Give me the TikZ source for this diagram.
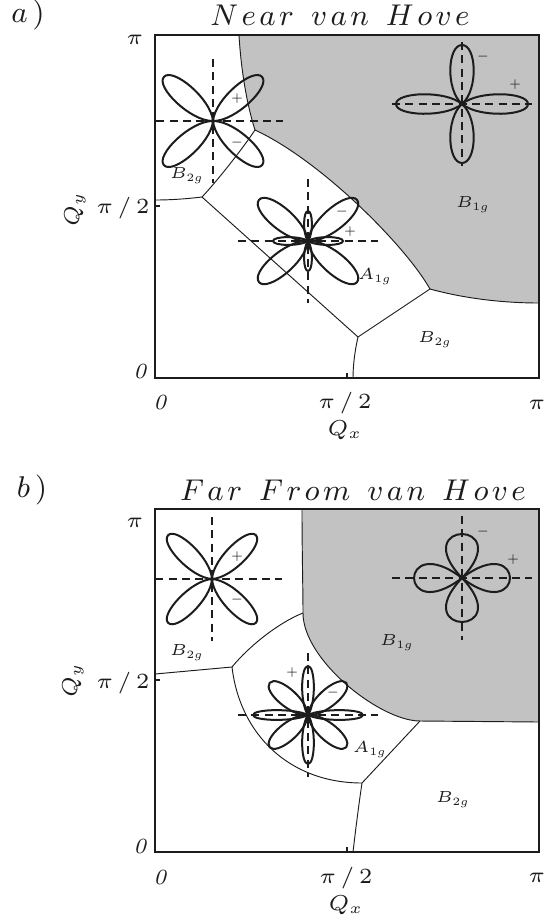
\documentclass[tikz,border=0pt]{standalone}
\usepackage{fix-cm}
\usepackage{tikz}
\usetikzlibrary{calc}
\definecolor{diagramInk}{HTML}{1C1C1C}
\definecolor{diagramGap}{HTML}{C2C2C2}
\newcommand{\petal}[4]{\draw[lobe,shift={(#1)},rotate=#2] (0,0) .. controls (0.25*#3,1.4*#4) and (#3,1.2*#4) .. (#3,0) .. controls (#3,-1.2*#4) and (0.25*#3,-1.4*#4) .. (0,0);}
\newcommand{\bulb}[4]{\draw[lobe,shift={(#1)},rotate=#2] (0,0) .. controls (1.333*#3,3.47*#4) and (1.333*#3,-3.47*#4) .. (0,0);}
\newcommand{\clover}[4]{\foreach \ang in {#2,180-#2,180+#2,360-#2} {\petal{#1}{\ang}{#3}{#4}}}
\newcommand{\guides}[1]{\draw[guide] ($(#1)+(-70,0)$) -- ($(#1)+(70,0)$) ($(#1)+(0,-62)$) -- ($(#1)+(0,62)$);}

\begin{document}
\begin{tikzpicture}[
    x=0.3pt,y=-0.3pt,
    every node/.style={inner sep=0pt,text=diagramInk},
    box/.style={draw=diagramInk,line width=0.5pt},
    wall/.style={draw=diagramInk,line width=0.28pt},
    gap/.style={fill=diagramGap},
    guide/.style={draw=diagramInk,line width=0.6pt,dash pattern=on 2.4pt off 1.6pt},
    lobe/.style={draw=diagramInk,line width=0.6pt},
    ttl/.style={font=\fontsize{9}{10}\selectfont},
    tick/.style={font=\fontsize{6.5}{8}\selectfont},
    irrep/.style={font=\fontsize{4.8}{6}\selectfont},
    sign/.style={font=\fontsize{3.5}{4}\selectfont}
]
\useasboundingbox (0,0) rectangle (551,924);

\coordinate (atop) at (239,35);
\coordinate (akink) at (255,130);
\coordinate (aknee) at (430,289);
\coordinate (aright) at (539,303);
\coordinate (aleft) at (155,200);
\coordinate (ajoin) at (202,197);
\coordinate (afork) at (358,337);
\coordinate (abottom) at (353,378);
\coordinate (atl) at (213,121);
\coordinate (atr) at (462,104);
\coordinate (amid) at (308,241);

\path[gap,wall] (atop) .. controls (241,70) and (247,105) .. (akink) .. controls (320,160) and (405,245) .. (aknee) .. controls (470,300) and (510,303) .. (aright) -- (539,35) -- cycle;
\draw[wall] (akink) .. controls (243,148) and (218,180) .. (ajoin) .. controls (185,199) and (170,200) .. (aleft);
\draw[wall] (ajoin) -- (afork) -- (aknee);
\draw[wall] (afork) .. controls (355,350) and (353,365) .. (abottom);
\draw[box] (155,35) rectangle (539,378);
\draw[box] (155,206) -- (160,206) (347,378) -- (347,373);

\begin{scope}
\clip (155,35) rectangle (539,378);
\guides{atl} \guides{atr} \guides{amid}
\end{scope}
\clover{atl}{42}{66}{11}
\foreach \ang/\len/\wid in {0/66/10,180/66/10,90/59/12,270/59/12} {\petal{atr}{\ang}{\len}{\wid}}
\clover{amid}{40}{64}{11}
\foreach \ang/\len in {0/35,180/35,90/30,270/30} {\petal{amid}{\ang}{\len}{4}}

\node[ttl] (apanel) at (28,15) {$a\,)$};
\node[ttl] (atitle) at (340,15) {$N\mkern2mu e\mkern2mu a\mkern2mu r\;\;v\mkern2mu a\mkern2mu n\;\;H\mkern2mu o\mkern2mu v\mkern2mu e$};
\node[tick] (api) at (135,40) {$\pi$};
\node[tick] (ahalf) at (123,208) {$\pi\,/\,2$};
\node[tick] (azero) at (140,372) {\textit{0}};
\node[tick] (axzero) at (160,403) {\textit{0}};
\node[tick] (axhalf) at (345,403) {$\pi\,/\,2$};
\node[tick] (axpi) at (537,405) {$\pi$};
\node[tick] (aqx) at (345,430) {$Q_x$};
\node[tick,rotate=90] (aqy) at (75,209) {$Q_y$};
\node[irrep] (ab2g) at (187,176) {$B_{2g}$};
\node[irrep] (aa1g) at (375,277) {$A_{1g}$};
\node[irrep] (ab1g) at (473,205) {$B_{1g}$};
\node[irrep] (ab2glow) at (435,340) {$B_{2g}$};
\node[sign] (atlplus) at (237,99) {$+$};
\node[sign] (atlminus) at (237,143) {$-$};
\node[sign] (atrminus) at (483,57) {$-$};
\node[sign] (atrplus) at (515,85) {$+$};
\node[sign] (amidminus) at (342,212) {$-$};
\node[sign] (amidplus) at (350,232) {$+$};

\coordinate (btop) at (302,509);
\coordinate (bkink) at (303,613);
\coordinate (bknee) at (420,721);
\coordinate (bright) at (539,722);
\coordinate (bleft) at (155,674);
\coordinate (bjoin) at (232,667);
\coordinate (bfork) at (362,783);
\coordinate (bbottom) at (353,852);
\coordinate (btl) at (212,579);
\coordinate (btr) at (462,578);
\coordinate (bmid) at (308,715);

\path[gap,wall] (btop) .. controls (302,550) and (303,590) .. (bkink) .. controls (303,660) and (380,721) .. (bknee) -- (bright) -- (539,509) -- cycle;
\draw[wall] (bkink) .. controls (280,622) and (250,645) .. (bjoin) -- (bleft);
\draw[wall] (bjoin) .. controls (240,735) and (290,783) .. (bfork) -- (bknee);
\draw[wall] (bfork) .. controls (358,810) and (355,835) .. (bbottom);
\draw[box] (155,509) rectangle (539,852);
\draw[box] (155,680) -- (160,680) (347,852) -- (347,847);

\begin{scope}
\clip (155,509) rectangle (539,852);
\guides{btl} \guides{btr} \guides{bmid}
\end{scope}
\clover{btl}{45}{62}{10}
\foreach \ang/\len/\wid in {0/48/14,180/48/14,90/44/16,270/44/16} {\bulb{btr}{\ang}{\len}{\wid}}
\clover{bmid}{40}{50}{9}
\foreach \ang/\len/\wid in {0/55/5,180/55/5,90/49/6,270/49/6} {\petal{bmid}{\ang}{\len}{\wid}}

\node[ttl] (bpanel) at (32,490) {$b\,)$};
\node[ttl] (btitle) at (353,490) {$F\mkern2mu a\mkern2mu r\;\;F\mkern2mu r\mkern2mu o\mkern2mu m\;\;v\mkern2mu a\mkern2mu n\;\;H\mkern2mu o\mkern2mu v\mkern2mu e$};
\node[tick] (bpi) at (135,523) {$\pi$};
\node[tick] (bhalf) at (123,683) {$\pi\,/\,2$};
\node[tick] (bzero) at (140,847) {\textit{0}};
\node[tick] (bxzero) at (160,878) {\textit{0}};
\node[tick] (bxhalf) at (346,878) {$\pi\,/\,2$};
\node[tick] (bxpi) at (537,878) {$\pi$};
\node[tick] (bqx) at (346,905) {$Q_x$};
\node[tick,rotate=90] (bqy) at (73,680) {$Q_y$};
\node[irrep] (bb2g) at (187,653) {$B_{2g}$};
\node[irrep] (bb1g) at (397,643) {$B_{1g}$};
\node[irrep] (ba1g) at (370,750) {$A_{1g}$};
\node[irrep] (bb2glow) at (453,800) {$B_{2g}$};
\node[sign] (btlplus) at (237,557) {$+$};
\node[sign] (btlminus) at (237,600) {$-$};
\node[sign] (btrminus) at (483,532) {$-$};
\node[sign] (btrplus) at (513,560) {$+$};
\node[sign] (bmidplus) at (292,673) {$+$};
\node[sign] (bmidminus) at (333,693) {$-$};
\end{tikzpicture}
\end{document}
